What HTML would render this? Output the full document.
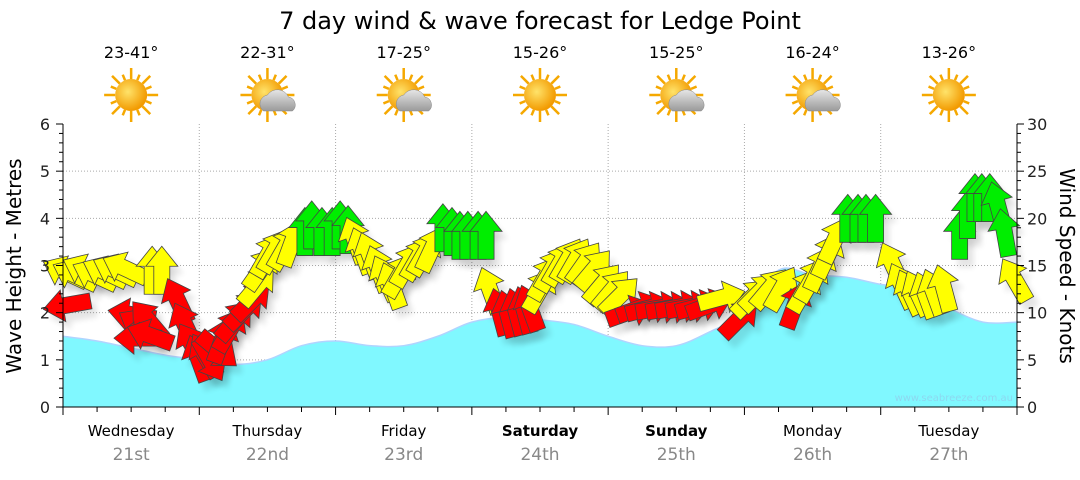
<!DOCTYPE html>
<html><head><meta charset="utf-8"><style>
body{margin:0;background:#fff;width:1080px;height:475px;overflow:hidden;font-family:"Liberation Sans",sans-serif}
svg text{font-family:"DejaVu Sans","Liberation Sans",sans-serif}
</style></head><body>
<svg id="c" width="1080" height="475">
<defs>
<filter id="sh" x="-50%" y="-50%" width="200%" height="200%"><feGaussianBlur stdDeviation="3"/></filter>
<radialGradient id="sun" cx="0.4" cy="0.4" r="0.6"><stop offset="0" stop-color="#ffe36a"/><stop offset="1" stop-color="#f29a00"/></radialGradient>
<linearGradient id="cl" x1="0" y1="0" x2="0" y2="1"><stop offset="0" stop-color="#e6e6e6"/><stop offset="1" stop-color="#9a9a9a"/></linearGradient>
</defs>
<text x="540" y="29" text-anchor="middle" font-size="24" fill="#000">7 day wind &amp; wave forecast for Ledge Point</text>
<g id="grid"></g>
<g id="wave"></g>
<g id="shadows"></g>
<g id="arrows"></g>
<g id="axes"></g>
<g id="head"></g>
<text x="1013" y="401" text-anchor="end" font-size="10" fill="#8cd8f0">www.seabreeze.com.au</text>
</svg>
<script>
const days=["Wednesday","Thursday","Friday","Saturday","Sunday","Monday","Tuesday"];
const dates=["21st","22nd","23rd","24th","25th","26th","27th"];
const weekend=[false,false,false,true,true,false,false];
const temps=["23-41°","22-31°","17-25°","15-26°","15-25°","16-24°","13-26°"];
const cloudy=[false,true,true,false,true,true,false];
const waveHours=[0,6,12,18,24,30,36,42,48,54,60,66,72,78,84,90,96,102,108,114,120,126,132,138,144,150,156,162,168];
const waveM=[1.5,1.4,1.25,1.1,1.0,0.9,1.0,1.3,1.4,1.3,1.3,1.5,1.8,1.9,1.85,1.75,1.5,1.3,1.3,1.6,2.0,2.9,2.8,2.75,2.6,2.5,2.1,1.8,1.8];
const windHours=[0.4,2.1,3.9,5.6,7.4,9.2,10.9,0.7,12.1,13.6,15,13.2,15.3,15.7,17.4,20.2,21.5,22.7,23.8,25,25.9,27.3,28,29.4,30.3,32,33.3,34.3,35,36.1,37.3,39.1,40.3,42.6,43.8,45.6,47.4,48.8,50.2,51.4,52.6,54,55.5,56.7,57.9,59.3,60.7,62.5,63.7,65,66.9,68.5,69.9,71.3,73.1,74.5,75.2,76.9,78.3,79.8,81.2,82.2,84,84.9,86.1,87.5,88.9,90.3,91.9,93.5,95.1,96.7,98.1,99.8,101.6,103.3,105.1,106.9,108.6,110.4,112.1,113.9,116,119.2,121.3,122.7,124.5,126.6,128.9,130.6,131.9,133.3,134.7,135.9,138.2,140,141.4,143.1,146.1,147.7,149.1,150.5,151.9,153.3,155.1,157.9,159.3,160.6,161.8,163.2,164.6,165.8,167.6];
const windKts=[14.3,14,14.5,14,14.3,14.5,14.7,10.8,9.8,8.7,9.2,7.3,7.6,14.5,14.5,11.3,8.7,6.6,5.2,5.5,5,6,7.1,8.2,9.2,10.3,11.3,12.9,14.7,16.1,16.6,16.9,17.4,18.6,19.3,18.6,18.6,19.3,18.8,17.7,16.6,16.1,14.7,13.7,12.9,14,15.1,15.8,16.3,16.8,19,18.6,18.2,18.2,18.2,18.2,12.4,10.1,9.9,10.1,10.3,10.5,12.4,13.7,14.6,15.2,15.6,15.6,15.3,14.6,13.1,12.4,11.8,10.1,10.5,10.5,10.5,10.5,10.6,10.6,10.7,10.8,11.6,9.4,11.6,12.2,12.6,12.6,10.8,12.4,13.5,14.7,16.1,17.7,20,20,20,20,15.1,12.9,12.2,12.1,11.9,12.2,12.6,18.2,20.4,22.2,22.2,22.2,21.4,18.5,13.5];
const windDir=[-65,-65,-65,-65,-65,-65,-65,-100,-80,-60,-40,-90,-70,0,0,-25,-25,-30,-20,-30,150,130,20,30,40,45,45,40,35,30,30,30,20,0,0,0,0,0,0,-20,-20,-20,-20,-25,-20,30,30,30,30,25,0,0,0,0,0,0,-20,-15,-15,-15,-15,-20,30,30,30,30,30,30,35,40,40,40,45,70,70,75,80,80,80,80,75,70,75,45,45,45,40,30,20,30,30,25,25,25,0,0,0,0,-25,-25,-25,-25,-20,-20,-15,0,0,0,0,0,-15,-10,-30];
const windCol=["y","y","y","y","y","y","y","r","r","r","r","r","r","y","y","r","r","r","r","r","r","r","r","r","r","r","r","y","y","y","y","y","y","g","g","g","g","g","g","y","y","y","y","y","y","y","y","y","y","y","g","g","g","g","g","g","y","r","r","r","r","r","y","y","y","y","y","y","y","y","y","y","y","r","r","r","r","r","r","r","r","r","y","r","y","y","y","y","r","y","y","y","y","y","g","g","g","g","y","y","y","y","y","y","y","g","g","g","g","g","g","g","y"];
const X0=63,X1=1017,Y0=407,Y1=124;
const xH=h=>X0+h*(X1-X0)/168;
const yM=m=>Y0-m*(Y0-Y1)/6;
const yK=k=>Y0-k*(Y0-Y1)/30;
const NS="http://www.w3.org/2000/svg";
function mk(p,t,a){const e=document.createElementNS(NS,t);for(const k in a)e.setAttribute(k,a[k]);p.appendChild(e);return e;}
const grid=document.getElementById('grid'),axes=document.getElementById('axes'),head=document.getElementById('head');
for(let m=1;m<=5;m++){const l=mk(grid,'line',{x1:X0,x2:X1,y1:yM(m),y2:yM(m),stroke:'#aaa','stroke-dasharray':'1,2'});

}
for(let d=1;d<7;d++){const l=mk(grid,'line',{x1:xH(d*24),x2:xH(d*24),y1:Y1,y2:Y0,stroke:'#aaa','stroke-dasharray':'1,2'});

}
const pts=waveHours.map((h,i)=>[xH(h),yM(waveM[i])]);
let d=`M${pts[0][0]},${pts[0][1]}`;
for(let i=0;i<pts.length-1;i++){const p0=pts[Math.max(0,i-1)],p1=pts[i],p2=pts[i+1],p3=pts[Math.min(pts.length-1,i+2)];
d+=` C${p1[0]+(p2[0]-p0[0])/6},${p1[1]+(p2[1]-p0[1])/6} ${p2[0]-(p3[0]-p1[0])/6},${p2[1]-(p3[1]-p1[1])/6} ${p2[0]},${p2[1]}`;}
const wa=mk(document.getElementById('wave'),'path',{d:d+` L${X1},${Y0} L${X0},${Y0} Z`,fill:'#80f8ff'});


const wl=mk(document.getElementById('wave'),'path',{d:d,fill:'none',stroke:'#b0d4ff','stroke-width':1.5});


const AP="M0,-24 L16,-4 L8,-4 L8,24 L-8,24 L-8,-4 L-16,-4 Z";
const cols={y:'#ffff00',r:'#ff0000',g:'#00ee00'};
const sh=document.getElementById('shadows'),ar=document.getElementById('arrows');
windHours.forEach((h,i)=>{const x=xH(h),y=yK(windKts[i]);
const s=mk(sh,'path',{d:AP,transform:`translate(${x+6},${y+8}) rotate(${windDir[i]})`,fill:'#000',opacity:0.1,filter:'url(#sh)'});


const a=mk(ar,'path',{d:AP,transform:`translate(${x},${y}) rotate(${windDir[i]})`,fill:cols[windCol[i]],stroke:'#444','stroke-width':0.8});

});
mk(axes,'line',{x1:X0,x2:X0,y1:Y1,y2:Y0,stroke:'#000'});
mk(axes,'line',{x1:X1,x2:X1,y1:Y1,y2:Y0,stroke:'#000'});
mk(axes,'line',{x1:X0,x2:X1,y1:Y0,y2:Y0,stroke:'#000'});
for(let i=0;i<=30;i++){const y=yM(i/5);mk(axes,'line',{x1:X0-(i%5?4:7),x2:X0,y1:y,y2:y,stroke:'#000'});}
for(let i=0;i<=30;i++){const y=yK(i);mk(axes,'line',{x1:X1,x2:X1+(i%5?4:7),y1:y,y2:y,stroke:'#000'});}
for(let m=0;m<=6;m++){const t=mk(axes,'text',{x:50,y:yM(m)+6,'text-anchor':'end','font-size':16,fill:'#222'});t.textContent=m;

}
for(let k=0;k<=30;k+=5){const t=mk(axes,'text',{x:1027,y:yK(k)+6,'font-size':16,fill:'#222'});t.textContent=k;

}
for(let h=0;h<=168;h+=6){const x=xH(h);mk(axes,'line',{x1:x,x2:x,y1:Y0,y2:Y0+(h%24?5:8),stroke:'#000'});}
const lt=mk(axes,'text',{x:0,y:0,transform:'translate(21,266) rotate(-90)','text-anchor':'middle','font-size':20,fill:'#000'});lt.textContent='Wave Height - Metres';


const rt=mk(axes,'text',{x:0,y:0,transform:'translate(1060,266) rotate(90)','text-anchor':'middle','font-size':20,fill:'#000'});rt.textContent='Wind Speed - Knots';


days.forEach((dn,i)=>{const cx=xH(i*24+12);
const t=mk(axes,'text',{x:cx,y:436,'text-anchor':'middle','font-size':15,fill:'#000','font-weight':weekend[i]?'bold':'normal'});t.textContent=dn;


const t2=mk(axes,'text',{x:cx,y:460,'text-anchor':'middle','font-size':17,fill:'#888'});t2.textContent=dates[i];


const t3=mk(head,'text',{x:cx,y:58,'text-anchor':'middle','font-size':16,fill:'#000'});t3.textContent=temps[i];


const g=mk(head,'g',{transform:`translate(${cx},95)`});


for(let r=0;r<16;r++){const a=r*Math.PI/8,L=r%2?22:27;mk(g,'line',{x1:Math.cos(a)*16,y1:Math.sin(a)*16,x2:Math.cos(a)*L,y2:Math.sin(a)*L,stroke:'#f5a800','stroke-width':2.5});}
mk(g,'circle',{cx:0,cy:0,r:16,fill:'url(#sun)'});
if(cloudy[i]){mk(g,'path',{d:'M-4,16 a9,9 0 0 1 4,-16 a12,12 0 0 1 21,2 a8,8 0 0 1 4,14 Z',fill:'url(#cl)',stroke:'#888','stroke-width':0.5});}
});
</script>
</body></html>
